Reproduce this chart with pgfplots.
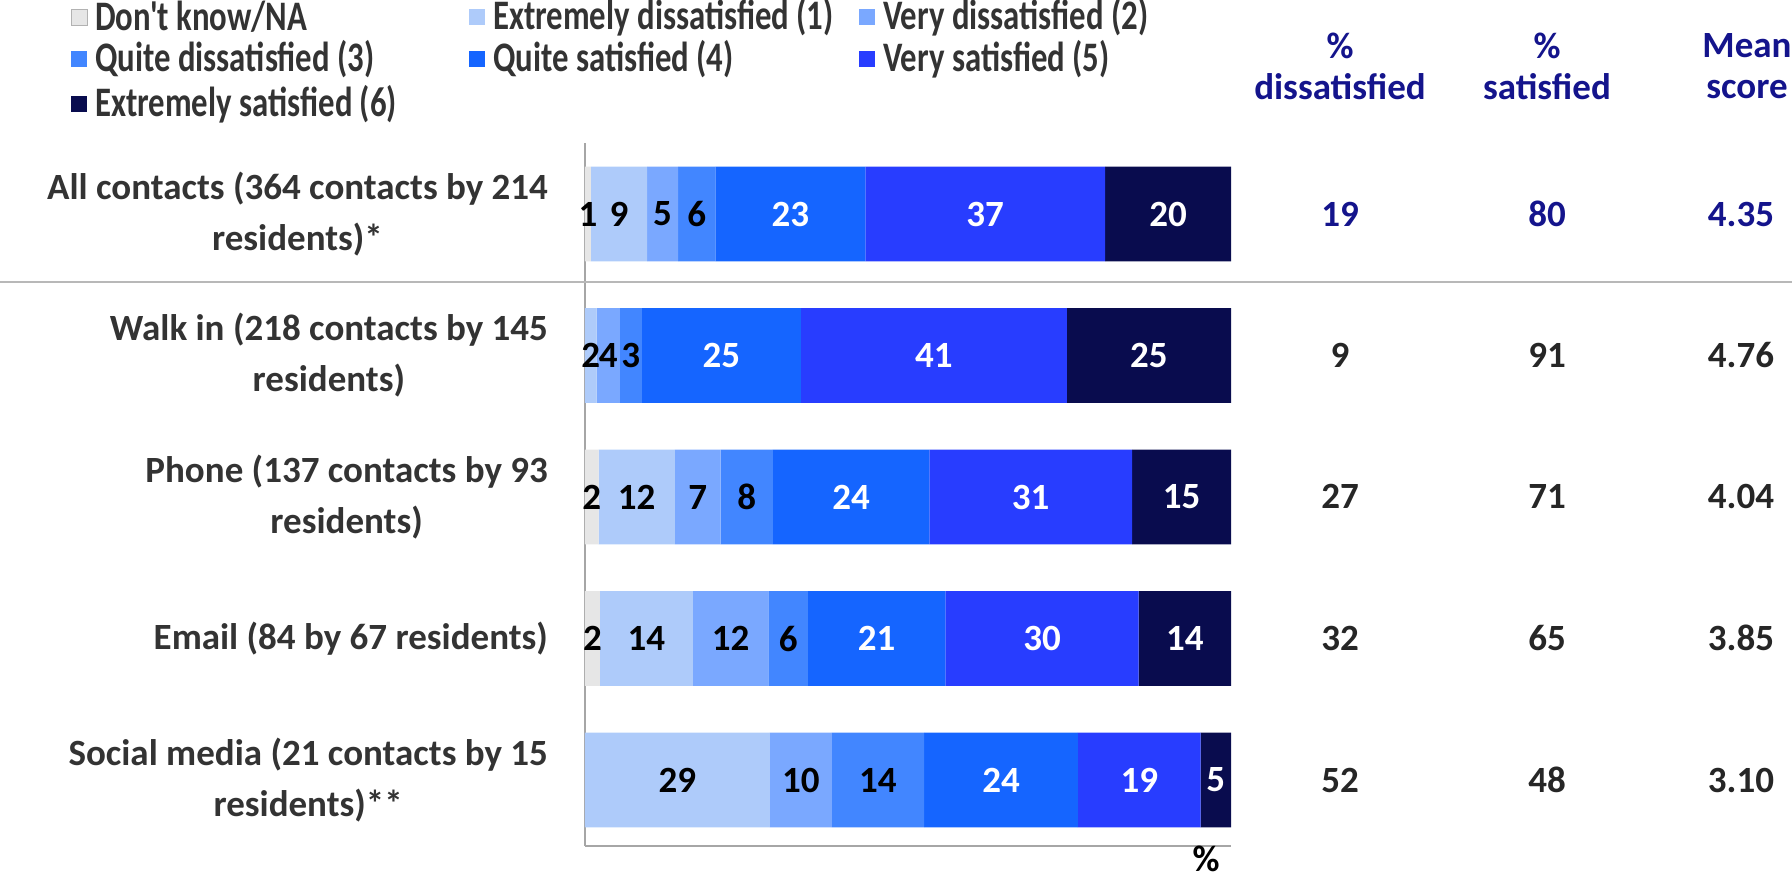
\documentclass[border=0pt]{standalone}
\usepackage{pgfplots}
\pgfplotsset{compat=1.18}
\usepackage{pgfplotstable}
\usepackage{fontspec}
\setmainfont{Carlito}
\newfontfamily\legfamily[FakeStretch=0.78]{Carlito}

\definecolor{cdk}{HTML}{E6E6E6}
\definecolor{ced}{HTML}{AECBFA}
\definecolor{cvd}{HTML}{7AA8FF}
\definecolor{cqd}{HTML}{4286FF}
\definecolor{cqs}{HTML}{1565FF}
\definecolor{cvs}{HTML}{283DFF}
\definecolor{ces}{HTML}{090C4E}
\definecolor{navyt}{HTML}{14148C}
\definecolor{labt}{HTML}{333333}
\definecolor{valt}{HTML}{262626}
\definecolor{axgray}{HTML}{A6A6A6}

\newcommand\bigfont{\fontsize{37}{51}\selectfont\bfseries}
\newcommand\legfont{\legfamily\fontsize{42}{46}\selectfont\bfseries}

% pos 4 = All contacts (top) ... 0 = Social media (bottom)
\pgfplotstableread{
pos dk  ed   vd   qd   qs   vs   es   ldk led lvd lqd lqs lvs les
4   0.9 8.7  4.8  5.8  23.2 37.1 19.5 1   9   5   6   23  37  20
3   0.0 1.8  3.6  3.4  24.6 41.2 25.4 {}  2   4   3   25  41  25
2   2.1 11.8 7.1  8.1  24.2 31.4 15.3 2   12  7   8   24  31  15
1   2.3 14.4 11.7 6.1  21.3 29.9 14.3 2   14  12  6   21  30  14
0   0.0 28.6 9.6  14.3 23.8 19.0 4.7  {}  29  10  14  24  19  5
}\contacts

\begin{document}
\begin{tikzpicture}

\begin{axis}[
    at={(585pt,-846pt)}, anchor=south west,
    scale only axis, width=646pt, height=703pt,
    xbar stacked, bar width=0.67,
    xmin=0, xmax=100, ymin=-0.466, ymax=4.502,
    axis x line*=bottom, axis y line*=left,
    x axis line style={-}, y axis line style={-},
    axis line style={draw=axgray, line width=1.5pt},
    xtick=\empty,
    ytick={0,1,2,3,4},
    yticklabels={{Social media (21 contacts by 15\\residents)**},
                 {Email (84 by 67 residents)},
                 {Phone (137 contacts by 93\\residents)},
                 {Walk in (218 contacts by 145\\residents)},
                 {All contacts (364 contacts by 214\\residents)*}},
    major tick length=0pt,
    yticklabel style={align=center, font=\bigfont, text=labt, inner sep=0pt, xshift=-37pt},
    point meta=explicit symbolic,
    nodes near coords,
    every node near coord/.append style={font=\bigfont, text=black},
    clip=false,
]
\addplot[fill=cdk, draw=none] table[x=dk, y=pos, meta=ldk] {\contacts};
\addplot[fill=ced, draw=none] table[x=ed, y=pos, meta=led] {\contacts};
\addplot[fill=cvd, draw=none] table[x=vd, y=pos, meta=lvd] {\contacts};
\addplot[fill=cqd, draw=none] table[x=qd, y=pos, meta=lqd] {\contacts};
\addplot[fill=cqs, draw=none, every node near coord/.append style={text=white}] table[x=qs, y=pos, meta=lqs] {\contacts};
\addplot[fill=cvs, draw=none, every node near coord/.append style={text=white}] table[x=vs, y=pos, meta=lvs] {\contacts};
\addplot[fill=ces, draw=none, every node near coord/.append style={text=white}] table[x=es, y=pos, meta=les] {\contacts};
\end{axis}

\begin{scope}[x=1pt,y=-1pt]
\path[use as bounding box] (0,0) rectangle (1792,875);

% divider below "All contacts"
\draw[draw=axgray!80, line width=1.5pt] (0,282) -- (1792,282);

% legend
\foreach \c/\t/\xx/\yy in {cdk/{Don't know/NA}/71/17, ced/{Extremely dissatisfied (1)}/469/17, cvd/{Very dissatisfied (2)}/859/17,
    cqd/{Quite dissatisfied (3)}/71/59, cqs/{Quite satisfied (4)}/469/59, cvs/{Very satisfied (5)}/859/59,
    ces/{Extremely satisfied (6)}/71/104}{
  \fill[\c] (\xx,\yy-8) rectangle ++(16,16);
  \node[anchor=west, inner sep=0pt, font=\legfont, text=labt] at (\xx+24,\yy) {\t};
}
\draw[gray!60, line width=0.8pt] (71,9) rectangle ++(16,16);

% column headers
\node[align=center, font=\fontsize{37}{41}\selectfont\bfseries, text=navyt] at (1340,66) {\%\\dissatisfied};
\node[align=center, font=\fontsize{37}{41}\selectfont\bfseries, text=navyt] at (1547,66) {\%\\satisfied};
\node[align=center, font=\fontsize{37}{41}\selectfont\bfseries, text=navyt] at (1747,66) {Mean\\score};

% summary columns
\foreach \yy/\d/\s/\m/\col in {214/19/80/4.35/navyt, 355/9/91/4.76/valt, 496/27/71/4.04/valt, 638/32/65/3.85/valt, 780/52/48/3.10/valt}{
  \node[font=\bigfont, text=\col] at (1340,\yy) {\d};
  \node[font=\bigfont, text=\col] at (1547,\yy) {\s};
  \node[font=\bigfont, text=\col] at (1741,\yy) {\m};
}

\node[anchor=north, inner sep=0pt, font=\bigfont] at (1206,846) {\%};
\end{scope}
\end{tikzpicture}
\end{document}
